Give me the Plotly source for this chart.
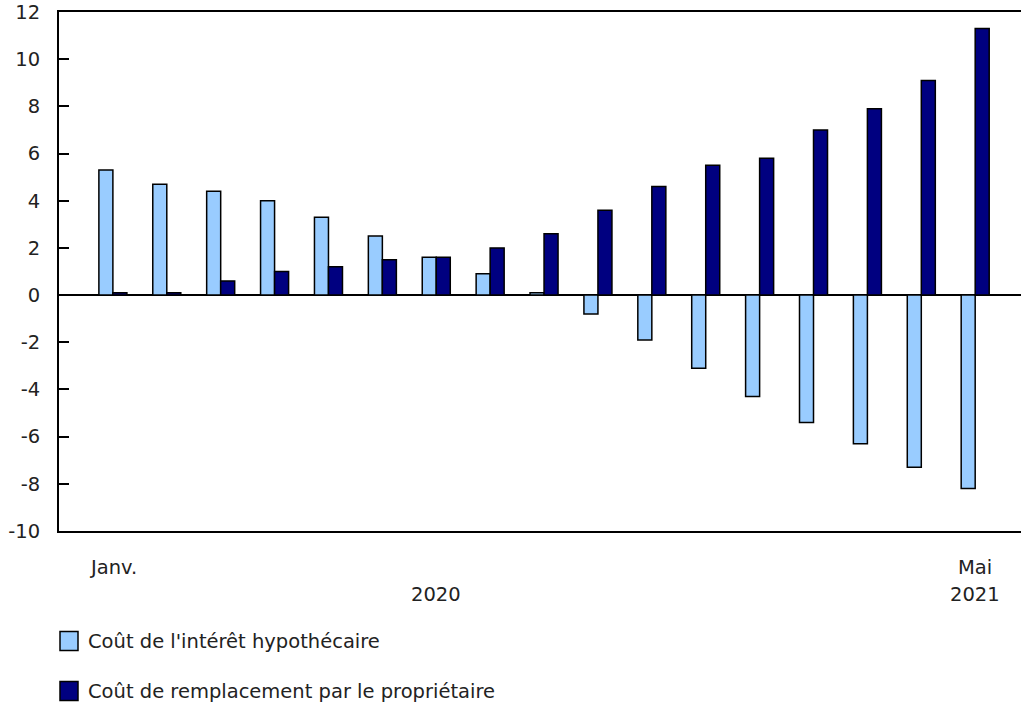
import plotly.graph_objects as go

months = ["2020-01", "2020-02", "2020-03", "2020-04", "2020-05", "2020-06",
          "2020-07", "2020-08", "2020-09", "2020-10", "2020-11", "2020-12",
          "2021-01", "2021-02", "2021-03", "2021-04", "2021-05"]
interet = [5.3, 4.7, 4.4, 4.0, 3.3, 2.5, 1.6, 0.9, 0.1, -0.8, -1.9, -3.1,
           -4.3, -5.4, -6.3, -7.3, -8.2]
remplacement = [0.1, 0.1, 0.6, 1.0, 1.2, 1.5, 1.6, 2.0, 2.6, 3.6, 4.6, 5.5,
                5.8, 7.0, 7.9, 9.1, 11.3]
series_names = ["Coût de l'intérêt hypothécaire",
                "Coût de remplacement par le propriétaire"]
series_colors = ["#99CCFF", "#000080"]
y_ticks = [-10, -8, -6, -4, -2, 0, 2, 4, 6, 8, 10, 12]
y_ticktext = ["-10", "-8", "-6", "-4", "-2", "0", "2", "4", "6", "8", "10", "12"]
x_labels = {0: "Janv.", 16: "Mai"}
year_labels = {6: "2020", 16: "2021"}

FONT = "DejaVu Sans"
FS = 19.5
TXT = "#222222"
idx = list(range(len(months)))

fig = go.Figure()
for vals, name, col, off in [(interet, series_names[0], series_colors[0], -0.26),
                             (remplacement, series_names[1], series_colors[1], 0.0)]:
    fig.add_trace(go.Bar(
        x=idx, y=vals, name=name, width=0.26, offset=off,
        marker=dict(color=col, line=dict(color="#000000", width=1.5)),
        hovertext=months, showlegend=False,
    ))

annotations = []
for xv, txt in x_labels.items():
    annotations.append(dict(x=xv, y=0, xref="x", yref="paper", text=txt,
                            showarrow=False, yanchor="middle", yshift=-36,
                            font=dict(family=FONT, size=FS, color=TXT)))
for xv, txt in year_labels.items():
    annotations.append(dict(x=xv, y=0, xref="x", yref="paper", text=txt,
                            showarrow=False, yanchor="middle", yshift=-63,
                            font=dict(family=FONT, size=FS, color=TXT)))

# legend (manual, to match swatch size)
shapes = []
legend_rows = [-110, -160]  # pixel offsets of row centers below plot bottom
for name, col, dy in zip(series_names, series_colors, legend_rows):
    shapes.append(dict(type="rect", xref="paper", yref="paper",
                       xsizemode="pixel", ysizemode="pixel", xanchor=0, yanchor=0,
                       x0=1, x1=19, y0=dy - 9.5, y1=dy + 9.5,
                       fillcolor=col, line=dict(color="#000000", width=1.5)))
    annotations.append(dict(x=0, y=0, xref="paper", yref="paper", text=name,
                            showarrow=False, xanchor="left", yanchor="middle",
                            xshift=27, yshift=dy,
                            font=dict(family=FONT, size=FS, color=TXT)))

fig.update_layout(
    width=1021, height=704,
    margin=dict(l=59, r=0, t=12, b=173, autoexpand=False),
    paper_bgcolor="white", plot_bgcolor="white",
    font=dict(family=FONT, size=FS, color=TXT),
    barmode="overlay",
    showlegend=False,
    annotations=annotations,
    shapes=shapes,
    xaxis=dict(range=[-1.0, 16.85], showgrid=False, zeroline=False,
               showticklabels=False, ticks="", showline=True,
               linecolor="#000000", linewidth=2, mirror=True),
    yaxis=dict(range=[-10, 12], tickvals=y_ticks, ticktext=y_ticktext,
               ticks="inside", ticklen=10, tickwidth=2, tickcolor="#000000",
               showgrid=False, zeroline=True, zerolinecolor="#000000",
               zerolinewidth=2, showline=True, linecolor="#000000",
               linewidth=2, ticklabelstandoff=13, automargin=False,
               ticklabeloverflow="allow",
               tickfont=dict(family=FONT, size=FS, color=TXT)),
)

fig.write_html("out.html",
               config={"displayModeBar": False},
               post_script="document.body.style.margin='0px';"
                           "document.body.style.overflow='hidden';")
